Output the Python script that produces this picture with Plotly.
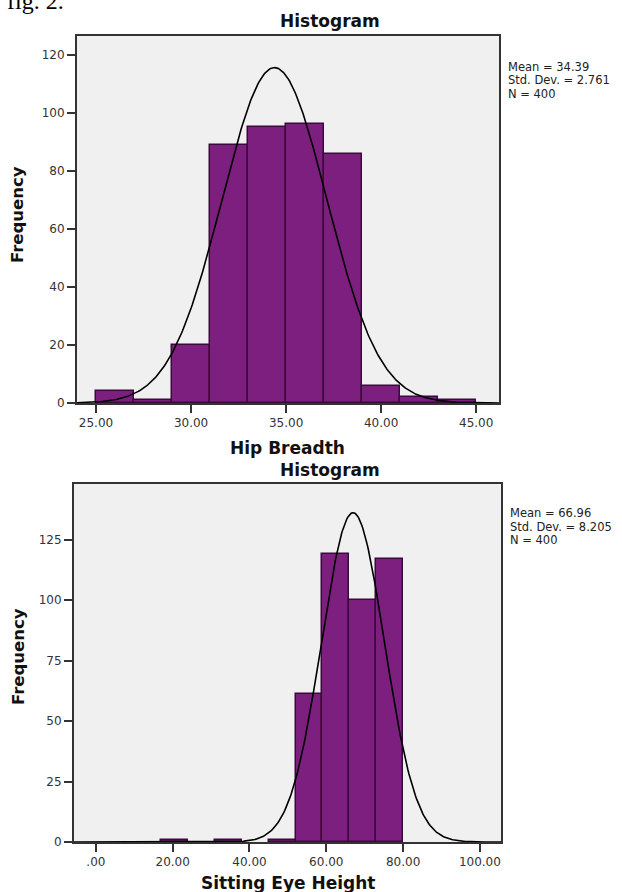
import numpy as np
import plotly.graph_objects as go

W, H = 622, 892

# ---------------- data ----------------
hip_bin_starts = [25, 27, 29, 31, 33, 35, 37, 39, 41, 43]
hip_counts = [4, 1, 20, 89, 95, 96, 86, 6, 2, 1]
hip_bin_width = 2
hip_mean, hip_sd, hip_n = 34.39, 2.761, 400
hip_xticks = [25, 30, 35, 40, 45]
hip_xticklabels = ["25.00", "30.00", "35.00", "40.00", "45.00"]
hip_yticks = [0, 20, 40, 60, 80, 100, 120]

eye_bin_starts = [17, 31, 45, 52, 59, 66, 73]
eye_counts = [1, 1, 1, 61, 119, 100, 117]
eye_bin_width = 7
eye_mean, eye_sd, eye_n = 66.96, 8.205, 400
eye_xticks = [0, 20, 40, 60, 80, 100]
eye_xticklabels = [".00", "20.00", "40.00", "60.00", "80.00", "100.00"]
eye_yticks = [0, 25, 50, 75, 100, 125]

# ---------------- helpers ----------------
def px(x):
    return x / W

def py(y):
    return 1 - y / H

BAR_FILL = "#7C1F7E"
BAR_EDGE = "#3A0A3C"
TICK_FONT = dict(family="DejaVu Sans", size=12, color="#333333")
TITLE_FONT = dict(family="DejaVu Sans", size=17, color="#111111")

fig = go.Figure()


def add_hist(starts, counts, bw, mean, sd, n, xr, xa, ya):
    centers = [s + bw / 2 for s in starts]
    fig.add_trace(go.Bar(
        x=centers, y=counts, width=[bw] * len(counts),
        marker=dict(color=BAR_FILL, line=dict(color=BAR_EDGE, width=1.5)),
        xaxis=xa, yaxis=ya, showlegend=False, hoverinfo="skip",
    ))
    xs = np.linspace(xr[0], xr[1], 400)
    ys = n * bw / (sd * np.sqrt(2 * np.pi)) * np.exp(-0.5 * ((xs - mean) / sd) ** 2)
    fig.add_trace(go.Scatter(
        x=xs, y=ys, mode="lines", line=dict(color="#000000", width=1.6),
        xaxis=xa, yaxis=ya, showlegend=False, hoverinfo="skip",
    ))


hip_xrange = [24.0, 46.2]
eye_xrange = [-5.7, 105.5]
add_hist(hip_bin_starts, hip_counts, hip_bin_width, hip_mean, hip_sd, hip_n, hip_xrange, "x", "y")
add_hist(eye_bin_starts, eye_counts, eye_bin_width, eye_mean, eye_sd, eye_n, eye_xrange, "x2", "y2")

axis_common = dict(
    showline=True, mirror=True, linecolor="#333333", linewidth=2,
    showgrid=False, zeroline=False, ticks="outside", ticklen=8, tickwidth=2,
    tickcolor="#333333", tickfont=TICK_FONT, automargin=False, fixedrange=True,
)

fig.update_layout(
    width=W, height=H,
    margin=dict(l=0, r=0, t=0, b=0),
    paper_bgcolor="white",
    plot_bgcolor="#F0F0F0",
    bargap=0,
    xaxis=dict(domain=[px(77), px(499)], range=hip_xrange, anchor="y",
               tickmode="array", tickvals=hip_xticks, ticktext=hip_xticklabels, **axis_common),
    yaxis=dict(domain=[py(403), py(36)], range=[0, 126.5], anchor="x",
               tickmode="array", tickvals=hip_yticks, **axis_common),
    xaxis2=dict(domain=[px(74), px(501)], range=eye_xrange, anchor="y2",
                tickmode="array", tickvals=eye_xticks, ticktext=eye_xticklabels, **axis_common),
    yaxis2=dict(domain=[py(842), py(484)], range=[0, 148], anchor="x2",
                tickmode="array", tickvals=eye_yticks, **axis_common),
)

annots = []


def txt(text, x, y, font, xanchor="center", yanchor="middle", angle=0):
    annots.append(dict(text=text, x=px(x), y=py(y), xref="paper", yref="paper",
                       xanchor=xanchor, yanchor=yanchor, showarrow=False,
                       font=font, textangle=angle, borderpad=0))


bold = lambda s: "<b>" + s + "</b>"

# figure caption (partially cut by the top edge)
txt("fig. 2.", 6, 15, dict(family="Liberation Serif", size=24, color="#000000"),
    xanchor="left", yanchor="bottom")

# chart 1
txt(bold("Histogram"), 330, 21, TITLE_FONT)
txt(bold("Hip Breadth"), 287, 448, TITLE_FONT)
txt(bold("Frequency"), 18, 215, dict(family="DejaVu Sans", size=16.5, color="#111111"), angle=-90)
stats_font = dict(family="DejaVu Sans", size=11.5, color="#222222")
txt("Mean = 34.39", 507, 66.5, stats_font, xanchor="left")
txt("Std. Dev. = 2.761", 507, 80, stats_font, xanchor="left")
txt("N = 400", 507, 93.5, stats_font, xanchor="left")

# chart 2
txt(bold("Histogram"), 330, 470, TITLE_FONT)
txt(bold("Sitting Eye Height"), 287.5, 883, TITLE_FONT)
txt(bold("Frequency"), 18, 657, dict(family="DejaVu Sans", size=16.5, color="#111111"), angle=-90)
stats_font2 = dict(family="DejaVu Sans", size=11.5, color="#222222")
txt("Mean = 66.96", 509, 513, stats_font2, xanchor="left")
txt("Std. Dev. = 8.205", 509, 526.5, stats_font2, xanchor="left")
txt("N = 400", 509, 540, stats_font2, xanchor="left")

fig.update_layout(annotations=annots)

fig.write_html(
    "out.html",
    config={"displayModeBar": False},
    post_script="document.body.style.margin='0';document.body.style.overflow='hidden';",
)
